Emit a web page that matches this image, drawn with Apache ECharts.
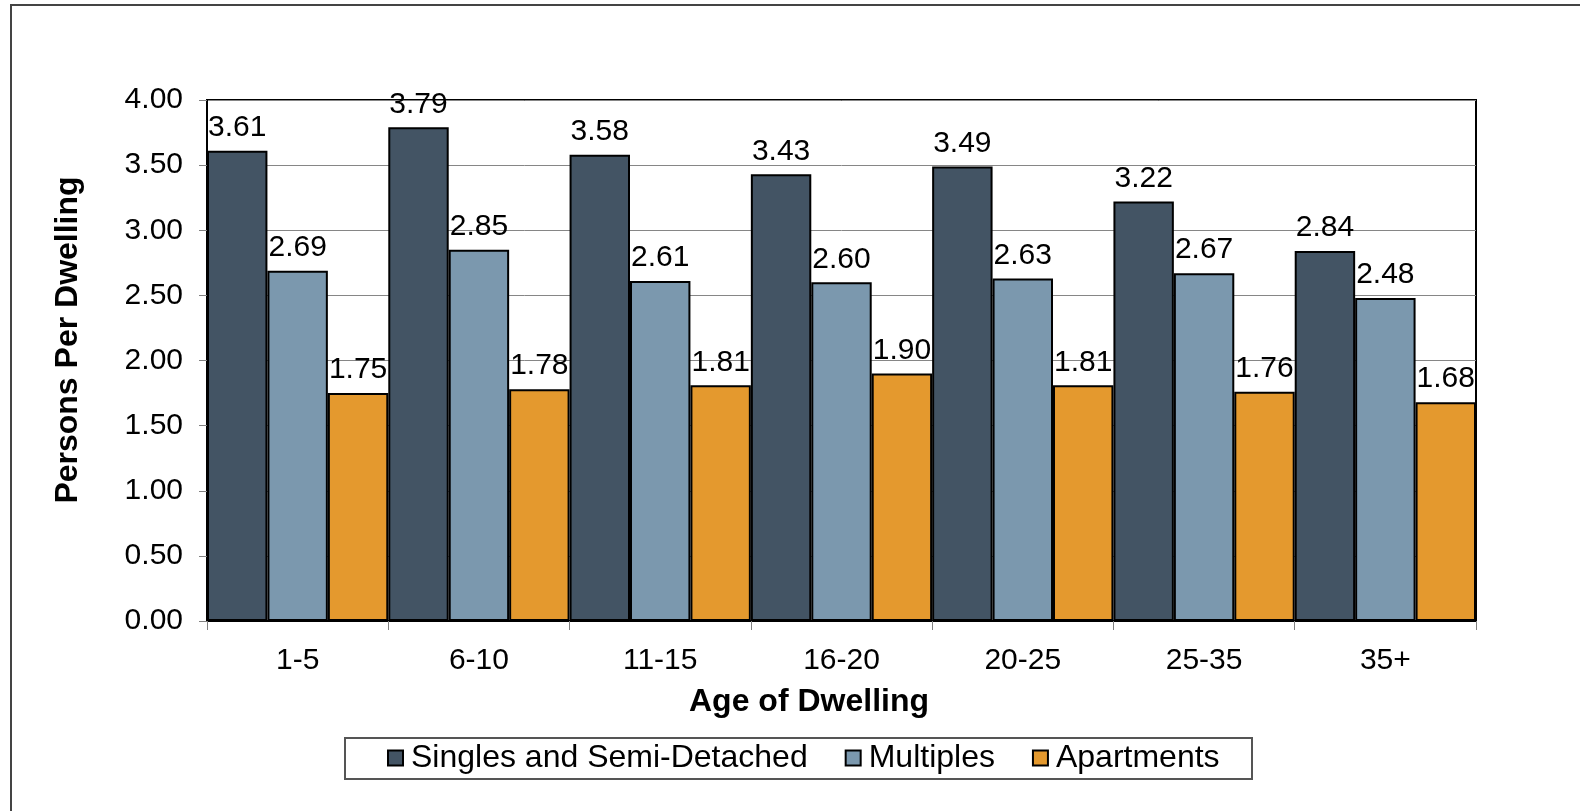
<!DOCTYPE html>
<html>
<head>
<meta charset="utf-8">
<script src="https://cdn.jsdelivr.net/npm/echarts@6/dist/echarts.min.js"></script>
<style>
html,body{margin:0;padding:0;background:#fff;}
#chart{width:1580px;height:811px;}
</style>
</head>
<body>
<div id="chart"></div>
<script>
const categories = ['1-5','6-10','11-15','16-20','20-25','25-35','35+'];
const singles = [3.61, 3.79, 3.58, 3.43, 3.49, 3.22, 2.84];
const multiples = [2.69, 2.85, 2.61, 2.60, 2.63, 2.67, 2.48];
const apartments = [1.75, 1.78, 1.81, 1.90, 1.81, 1.76, 1.68];
const seriesNames = ['Singles and Semi-Detached','Multiples','Apartments'];
const xTitle = 'Age of Dwelling';
const yTitle = 'Persons Per Dwelling';

const FONT = '"Liberation Sans", Arial, sans-serif';
const colors = ['#435464', '#7b98ae', '#e4992e'];

const chart = echarts.init(document.getElementById('chart'));

function barSeries(name, data, color) {
  return {
    name: name,
    type: 'bar',
    data: data,
    barGap: '0%',
    barCategoryGap: '0%',
    itemStyle: { color: color, borderColor: '#000', borderWidth: 2 },
    label: {
      show: true,
      position: 'top',
      distance: 8,
      color: '#000',
      fontFamily: FONT,
      fontSize: 30,
      formatter: p => p.value.toFixed(2)
    },
    emphasis: { disabled: true },
    animation: false
  };
}

chart.setOption({
  animation: false,
  backgroundColor: '#fff',
  textStyle: { fontFamily: FONT },
  grid: {
    left: 207, right: 104, top: 100, bottom: 190,
    show: true, borderColor: '#000', borderWidth: 2, backgroundColor: 'transparent'
  },
  legend: {
    data: seriesNames,
    left: 387,
    top: 742,
    padding: 0,
    itemGap: 37,
    itemWidth: 15,
    itemHeight: 15,
    icon: 'rect',
    itemStyle: { borderColor: '#000', borderWidth: 2 },
    textStyle: { fontFamily: FONT, fontSize: 32, color: '#000', padding: [0, 0, 0, 3] },
    selectedMode: false
  },
  xAxis: {
    type: 'category',
    data: categories,
    axisLine: { lineStyle: { color: '#000', width: 2 } },
    axisTick: { show: true, length: 9, lineStyle: { color: '#808080', width: 1 } },
    axisLabel: { color: '#000', fontFamily: FONT, fontSize: 30, margin: 25 },
    splitLine: { show: false }
  },
  yAxis: {
    type: 'value',
    min: 0, max: 4, interval: 0.5,
    axisLine: { show: true, lineStyle: { color: '#000', width: 2 } },
    axisTick: { show: true, length: 8, lineStyle: { color: '#808080', width: 1 } },
    axisLabel: { color: '#000', fontFamily: FONT, fontSize: 30, margin: 24, formatter: v => v.toFixed(2) },
    splitLine: { show: true, lineStyle: { color: '#868686', width: 1 } }
  },
  graphic: [
    { type: 'rect', shape: { x: 11, y: 5, width: 1700, height: 1000 }, style: { fill: 'none', stroke: '#444', lineWidth: 2 }, silent: true, z: -10 },
    { type: 'rect', shape: { x: 345, y: 738, width: 907, height: 41 }, style: { fill: 'none', stroke: '#555', lineWidth: 2 }, silent: true },
    { type: 'text', x: 809, y: 702, style: { text: xTitle, font: 'bold 32px ' + FONT, fill: '#000', textAlign: 'center', textVerticalAlign: 'middle' }, silent: true },
    { type: 'text', x: 68, y: 340, rotation: Math.PI / 2, style: { text: yTitle, font: 'bold 32px ' + FONT, fill: '#000', textAlign: 'center', textVerticalAlign: 'middle' }, silent: true }
  ],
  series: [
    barSeries(seriesNames[0], singles, colors[0]),
    barSeries(seriesNames[1], multiples, colors[1]),
    barSeries(seriesNames[2], apartments, colors[2])
  ]
});
</script>
</body>
</html>
